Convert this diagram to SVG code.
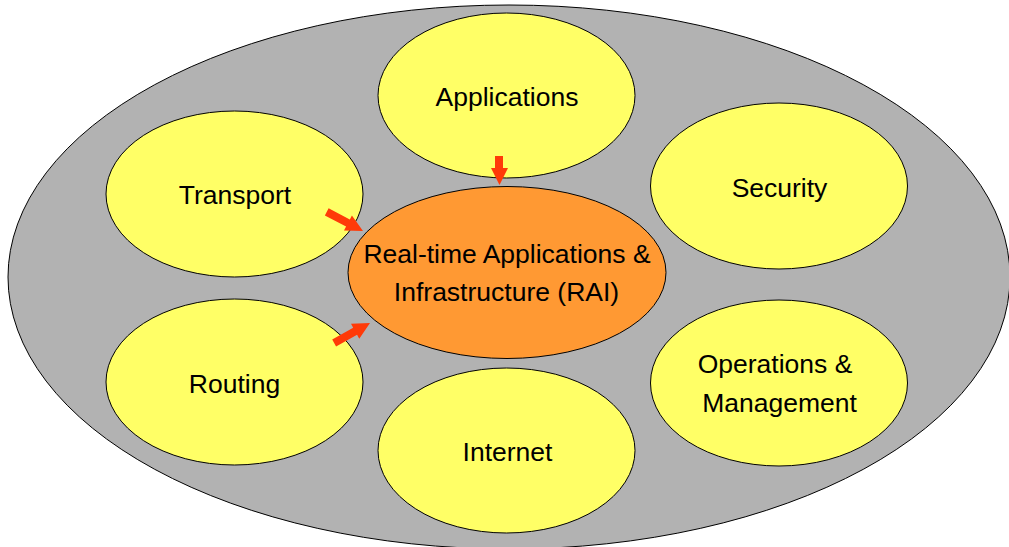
<svg xmlns="http://www.w3.org/2000/svg" width="1009" height="547" viewBox="0 0 1009 547">
<style>
.bg{fill:#b2b2b2;stroke:#000;stroke-width:1}
.y{fill:#ffff66;stroke:#000;stroke-width:1}
.o{fill:#ff9933;stroke:#000;stroke-width:1}
.t{font-family:"Liberation Sans",Arial,sans-serif;font-size:26.5px;fill:#000;text-anchor:middle}
.a{fill:#ff3a08;stroke:none}
</style>
<defs>
<polygon id="arr" points="-41,-4 -17,-4 -17,-8.5 0,0 -17,8.5 -17,4 -41,4"/>
</defs>
<rect width="1009" height="547" fill="#fff"/>
<g id="container">
<ellipse class="bg" cx="509" cy="277" rx="501" ry="272"/>
</g>
<g id="applications">
<ellipse class="y" cx="506.5" cy="95.5" rx="128.5" ry="82.5"/>
<text class="t" x="507" y="106">Applications</text>
</g>
<g id="transport">
<ellipse class="y" cx="234.5" cy="194" rx="128.5" ry="83"/>
<text class="t" x="235" y="204">Transport</text>
</g>
<g id="security">
<ellipse class="y" cx="779" cy="186" rx="128.5" ry="83"/>
<text class="t" x="779.5" y="197">Security</text>
</g>
<g id="routing">
<ellipse class="y" cx="234.5" cy="382" rx="128.5" ry="83"/>
<text class="t" x="234.5" y="393">Routing</text>
</g>
<g id="operations">
<ellipse class="y" cx="779" cy="383" rx="128.5" ry="83"/>
<text class="t" x="775" y="373">Operations &amp;</text>
<text class="t" x="779.5" y="412">Management</text>
</g>
<g id="internet">
<ellipse class="y" cx="506.5" cy="450.5" rx="128.5" ry="82.5"/>
<text class="t" x="507.5" y="461">Internet</text>
</g>
<g id="rai">
<ellipse class="o" cx="507" cy="272.5" rx="159" ry="86"/>
<text class="t" x="507" y="263">Real-time Applications &amp;</text>
<text class="t" x="506.5" y="301">Infrastructure (RAI)</text>
</g>
<g id="connectors">
<polygon class="a" points="495,156 503,156 503,168 508,168 499.5,185 491,168 495,168"/>
<use href="#arr" class="a" transform="translate(363,231) rotate(27.8)"/>
<use href="#arr" class="a" transform="translate(370,323) rotate(-29)"/>
</g>
</svg>
